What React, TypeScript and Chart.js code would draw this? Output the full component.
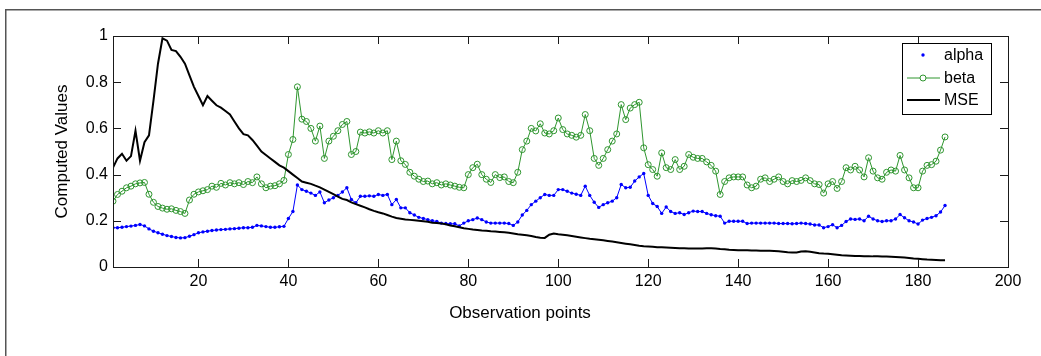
import React, { useEffect, useRef } from "react";
import { Chart, registerables } from "chart.js";

Chart.register(...registerables);

// x = 1 .. 186 observation points
const alpha = [
  0.17, 0.17, 0.172, 0.175, 0.177, 0.18, 0.184, 0.178, 0.165, 0.155,
  0.148, 0.142, 0.136, 0.132, 0.128, 0.126, 0.127, 0.133, 0.14, 0.148,
  0.152, 0.155, 0.158, 0.16, 0.162, 0.163, 0.165, 0.166, 0.168, 0.17,
  0.17, 0.172, 0.18, 0.178, 0.175, 0.172, 0.172, 0.174, 0.176, 0.21,
  0.24, 0.355, 0.335, 0.328, 0.32, 0.31, 0.325, 0.278, 0.29, 0.3,
  0.31, 0.325, 0.343, 0.292, 0.278, 0.306, 0.306, 0.308, 0.306, 0.314,
  0.31, 0.314, 0.27, 0.292, 0.256, 0.256, 0.235, 0.225, 0.215, 0.21,
  0.205, 0.2, 0.197, 0.19, 0.188, 0.187, 0.187, 0.178, 0.19, 0.2,
  0.205, 0.212, 0.205, 0.195, 0.19, 0.19, 0.19, 0.19, 0.188, 0.18,
  0.195, 0.225, 0.245, 0.27, 0.285, 0.3, 0.314, 0.31, 0.31, 0.335,
  0.335, 0.328, 0.32, 0.315, 0.31, 0.35, 0.31, 0.28, 0.258, 0.27,
  0.278, 0.285, 0.3, 0.357, 0.343, 0.345, 0.372, 0.39, 0.405, 0.31,
  0.275, 0.262, 0.232, 0.26, 0.24, 0.232, 0.235, 0.227, 0.235, 0.242,
  0.24, 0.24, 0.232, 0.226, 0.222, 0.22, 0.19, 0.198, 0.198, 0.198,
  0.198, 0.188, 0.19, 0.19, 0.19, 0.19, 0.19, 0.19, 0.188, 0.188,
  0.188, 0.187, 0.188, 0.19, 0.188, 0.186, 0.182, 0.182, 0.17, 0.175,
  0.183, 0.17, 0.18, 0.197, 0.208, 0.206, 0.208, 0.2, 0.22, 0.208,
  0.2, 0.197, 0.2, 0.2, 0.208, 0.227, 0.213, 0.2, 0.195, 0.186,
  0.203, 0.21, 0.215, 0.222, 0.238, 0.266,
];

const beta = [
  0.285, 0.314, 0.328, 0.343, 0.35, 0.36, 0.364, 0.366, 0.315, 0.28,
  0.262, 0.255, 0.25, 0.252, 0.245, 0.24, 0.232, 0.29, 0.315, 0.325,
  0.33, 0.335, 0.35, 0.345, 0.362, 0.355, 0.365, 0.36, 0.365, 0.357,
  0.37, 0.365, 0.39, 0.36, 0.343, 0.35, 0.352, 0.36, 0.375, 0.487,
  0.552, 0.78, 0.64, 0.63, 0.6, 0.545, 0.61, 0.47, 0.545, 0.566,
  0.59, 0.617, 0.63, 0.487, 0.5, 0.584, 0.58, 0.585, 0.58, 0.59,
  0.58, 0.59, 0.465, 0.545, 0.46, 0.444, 0.41, 0.393, 0.38, 0.37,
  0.372, 0.36, 0.365, 0.355, 0.36, 0.355, 0.35, 0.345, 0.343, 0.4,
  0.43, 0.445, 0.4, 0.38, 0.366, 0.4, 0.387, 0.39, 0.37, 0.365,
  0.41, 0.508, 0.545, 0.6, 0.589, 0.62, 0.58, 0.576, 0.59, 0.645,
  0.595, 0.576, 0.57, 0.562, 0.57, 0.66, 0.59, 0.47, 0.44, 0.47,
  0.508, 0.545, 0.576, 0.703, 0.638, 0.688, 0.703, 0.713, 0.516, 0.443,
  0.422, 0.393, 0.494, 0.43, 0.422, 0.465, 0.422, 0.436, 0.487, 0.475,
  0.47, 0.47, 0.455, 0.44, 0.415, 0.314, 0.37, 0.386, 0.39, 0.39,
  0.39, 0.355, 0.343, 0.35, 0.38, 0.386, 0.37, 0.38, 0.39, 0.37,
  0.36, 0.374, 0.37, 0.375, 0.386, 0.374, 0.36, 0.357, 0.32, 0.36,
  0.37, 0.34, 0.37, 0.43, 0.42, 0.436, 0.42, 0.39, 0.473, 0.415,
  0.386, 0.38, 0.41, 0.42, 0.415, 0.483, 0.42, 0.386, 0.343, 0.343,
  0.415, 0.44, 0.443, 0.458, 0.506, 0.563,
];

const mse = [
  0.43, 0.47, 0.49, 0.46, 0.48, 0.59, 0.46, 0.54, 0.57, 0.72,
  0.88, 0.99, 0.98, 0.94, 0.935, 0.91, 0.88, 0.83, 0.78, 0.74,
  0.7, 0.74, 0.72, 0.7, 0.69, 0.675, 0.66, 0.63, 0.6, 0.575,
  0.57, 0.55, 0.525, 0.5, 0.485, 0.47, 0.455, 0.44, 0.43, 0.415,
  0.4, 0.385, 0.37, 0.365, 0.36, 0.352, 0.345, 0.335, 0.325, 0.315,
  0.305, 0.295, 0.29, 0.28, 0.272, 0.265, 0.258, 0.25, 0.243, 0.237,
  0.232, 0.225, 0.218, 0.212, 0.209, 0.206, 0.204, 0.202, 0.2, 0.198,
  0.196, 0.192, 0.19, 0.188, 0.185, 0.18, 0.176, 0.172, 0.168, 0.165,
  0.162, 0.16, 0.158, 0.157, 0.155, 0.154, 0.152, 0.15, 0.148, 0.145,
  0.142, 0.14, 0.137, 0.134, 0.13, 0.127, 0.126, 0.14, 0.145, 0.142,
  0.14, 0.137, 0.134, 0.131, 0.128, 0.125, 0.122, 0.12, 0.118, 0.116,
  0.113, 0.11, 0.107, 0.104, 0.101, 0.098, 0.095, 0.092, 0.09, 0.089,
  0.088, 0.086, 0.085, 0.084, 0.083, 0.082, 0.081, 0.081, 0.08, 0.08,
  0.08, 0.08, 0.081, 0.081, 0.08, 0.078, 0.077, 0.075, 0.074, 0.073,
  0.072, 0.072, 0.071, 0.071, 0.07, 0.07, 0.07, 0.069, 0.068, 0.066,
  0.064, 0.063, 0.063, 0.067, 0.068, 0.066, 0.063, 0.06, 0.058, 0.057,
  0.055, 0.053, 0.051, 0.05, 0.049, 0.048, 0.048, 0.047, 0.047, 0.046,
  0.046, 0.045, 0.045, 0.044, 0.043, 0.042, 0.041, 0.039, 0.037, 0.036,
  0.034, 0.032, 0.031, 0.03, 0.029, 0.029,
];

const seriesLabels = ["alpha", "beta", "MSE"];
const xTicks = [20, 40, 60, 80, 100, 120, 140, 160, 180, 200];
const yTicks = [0, 0.2, 0.4, 0.6, 0.8, 1];
const yTickLabels = ["0", "0.2", "0.4", "0.6", "0.8", "1"];
const xTitle = "Observation points";
const yTitle = "Computed Values";

const FONT = "'Liberation Sans', Arial, Helvetica, sans-serif";
const BLUE = "#0000ff";
const GREEN = "#2f962f";
const BLACK = "#000000";

const toPoints = (arr: number[]) => arr.map((v, i) => ({ x: i + 1, y: v }));

const decorPlugin = {
  id: "decor",
  beforeDraw(chart: any) {
    const ctx = chart.ctx;
    ctx.save();
    ctx.fillStyle = "#ffffff";
    ctx.fillRect(0, 0, chart.width, chart.height);
    ctx.strokeStyle = "#555555";
    ctx.lineWidth = 1.5;
    ctx.beginPath();
    ctx.moveTo(5.75, chart.height);
    ctx.lineTo(5.75, 9.75);
    ctx.lineTo(chart.width, 9.75);
    ctx.stroke();
    ctx.restore();
  },
  afterDraw(chart: any) {
    const { ctx, chartArea: a, scales } = chart;
    ctx.save();
    // axes frame
    ctx.strokeStyle = "#1a1a1a";
    ctx.lineWidth = 1;
    ctx.strokeRect(a.left + 0.5, a.top + 0.5, a.right - a.left, a.bottom - a.top);
    // inward ticks
    const tl = 8;
    ctx.beginPath();
    for (const t of scales.x.ticks) {
      const px = Math.round(scales.x.getPixelForValue(t.value)) + 0.5;
      if (px < a.left + 1 || px > a.right - 1) continue;
      ctx.moveTo(px, a.bottom);
      ctx.lineTo(px, a.bottom - tl);
      ctx.moveTo(px, a.top);
      ctx.lineTo(px, a.top + tl);
    }
    for (const t of scales.y.ticks) {
      const py = Math.round(scales.y.getPixelForValue(t.value)) + 0.5;
      if (py < a.top + 1 || py > a.bottom - 1) continue;
      ctx.moveTo(a.left, py);
      ctx.lineTo(a.left + tl, py);
      ctx.moveTo(a.right, py);
      ctx.lineTo(a.right - tl, py);
    }
    ctx.stroke();

    // axis titles
    ctx.fillStyle = "#000";
    ctx.font = `17px ${FONT}`;
    ctx.textAlign = "center";
    ctx.textBaseline = "middle";
    ctx.fillText(xTitle, 520, 313);
    ctx.save();
    ctx.translate(62, (a.top + a.bottom) / 2);
    ctx.rotate(-Math.PI / 2);
    ctx.fillText(yTitle, 0, 0);
    ctx.restore();

    // legend
    const bx = 902, by = 43, bw = 89, bh = 71;
    ctx.fillStyle = "#ffffff";
    ctx.fillRect(bx, by, bw, bh);
    ctx.strokeStyle = "#000";
    ctx.lineWidth = 1;
    ctx.strokeRect(bx + 0.5, by + 0.5, bw, bh);
    const rows = [55, 78, 100];
    chart.data.datasets.forEach((ds: any, i: number) => {
      const y = rows[i];
      const x0 = 907, x1 = 940, xm = 923;
      ctx.strokeStyle = ds.borderColor;
      ctx.fillStyle = ds.borderColor;
      if (ds.showLine !== false && ds.legendLine !== false) {
        ctx.lineWidth = ds.borderWidth;
        ctx.beginPath();
        ctx.moveTo(x0, y);
        ctx.lineTo(x1, y);
        ctx.stroke();
      }
      if (ds.pointRadius > 0) {
        if (ds.pointStyle === "circle" && ds.pointBackgroundColor !== "rgba(0,0,0,0)") {
          ctx.beginPath();
          ctx.arc(xm, y, ds.pointRadius, 0, Math.PI * 2);
          ctx.fill();
        } else {
          ctx.lineWidth = 1;
          ctx.fillStyle = "#ffffff";
          ctx.beginPath();
          ctx.arc(xm, y, ds.pointRadius, 0, Math.PI * 2);
          ctx.fill();
          ctx.stroke();
        }
      }
      ctx.fillStyle = "#000";
      ctx.font = `16px ${FONT}`;
      ctx.textAlign = "left";
      ctx.textBaseline = "middle";
      ctx.fillText(ds.label, 944, y + 1);
    });
    ctx.restore();
  },
};

export default function App() {
  const ref = useRef<HTMLCanvasElement | null>(null);

  useEffect(() => {
    if (!ref.current) return;
    const chart = new Chart(ref.current, {
      type: "line",
      data: {
        datasets: [
          {
            label: seriesLabels[0],
            data: toPoints(alpha),
            borderColor: BLUE,
            backgroundColor: BLUE,
            borderWidth: 1,
            pointRadius: 1.7,
            pointStyle: "circle",
            pointBackgroundColor: BLUE,
            pointBorderWidth: 0,
            tension: 0,
            order: 3,
            legendLine: false,
          } as any,
          {
            label: seriesLabels[1],
            data: toPoints(beta),
            borderColor: GREEN,
            backgroundColor: GREEN,
            borderWidth: 1,
            pointRadius: 3,
            pointStyle: "circle",
            pointBackgroundColor: "rgba(0,0,0,0)",
            pointBorderColor: GREEN,
            pointBorderWidth: 1,
            tension: 0,
            order: 2,
          } as any,
          {
            label: seriesLabels[2],
            data: toPoints(mse),
            borderColor: BLACK,
            backgroundColor: BLACK,
            borderWidth: 2,
            pointRadius: 0,
            tension: 0,
            order: 1,
          } as any,
        ],
      },
      options: {
        responsive: false,
        animation: false,
        devicePixelRatio: 1,
        layout: { padding: { top: 36, right: 33, left: 0, bottom: 0 } },
        plugins: {
          legend: { display: false },
          tooltip: { enabled: false },
        },
        scales: {
          x: {
            type: "linear",
            min: 1,
            max: 200,
            grid: { display: false, drawTicks: false },
            border: { display: false },
            afterBuildTicks: (s: any) => {
              s.ticks = xTicks.map((v) => ({ value: v }));
            },
            afterFit: (s: any) => {
              s.height = 89;
            },
            ticks: {
              padding: 5,
              color: "#000",
              font: { family: FONT, size: 16 },
              maxRotation: 0,
              autoSkip: false,
              callback: (v: any) => String(v),
            },
          },
          y: {
            type: "linear",
            min: 0,
            max: 1,
            grid: { display: false, drawTicks: false },
            border: { display: false },
            afterBuildTicks: (s: any) => {
              s.ticks = yTicks.map((v) => ({ value: v }));
            },
            afterFit: (s: any) => {
              s.width = 113;
            },
            ticks: {
              padding: 5,
              color: "#000",
              font: { family: FONT, size: 16 },
              autoSkip: false,
              callback: (_v: any, i: number) => yTickLabels[i],
            },
          },
        },
      },
      plugins: [decorPlugin],
    });
    return () => chart.destroy();
  }, []);

  return (
    <div style={{ position: "absolute", left: 0, top: 0, width: 1041, height: 356, background: "#fff" }}>
      <canvas ref={ref} width={1041} height={356} style={{ display: "block" }} />
    </div>
  );
}
